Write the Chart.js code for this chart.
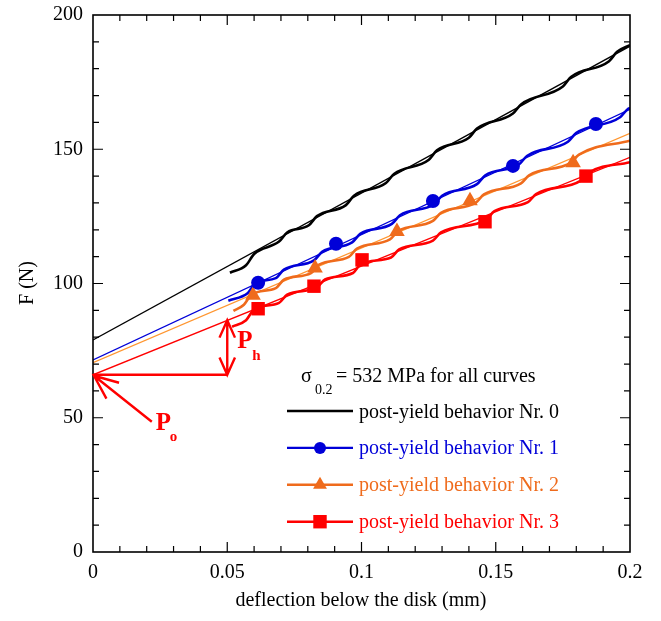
<!DOCTYPE html>
<html>
<head>
<meta charset="utf-8">
<script src="https://cdn.jsdelivr.net/npm/chart.js@4.4.0/dist/chart.umd.min.js"></script>
<style>
    body { margin: 0; background: #fff; }
    #wrap { width: 661px; height: 621px; }
</style>
</head>
<body>
<div id="wrap"><canvas id="myChart"></canvas></div>
<script>
// straight fitted lines (x in mm, F in N)
const lineX = [0, 0.2];
const line0F = [79, 188.4];
const line1F = [71.5, 164.9];
const line2F = [70.5, 155.9];
const line3F = [66, 147];

// post-yield curves
const curve0X = [0.051, 0.057, 0.060, 0.0693, 0.0723, 0.0804, 0.0834, 0.0942, 0.0972, 0.1091, 0.1121, 0.1251, 0.1281, 0.140, 0.143, 0.1564, 0.1594, 0.175, 0.178, 0.1922, 0.1952, 0.2];
const curve0F = [104.0, 106.8, 111.0, 115.6, 119.0, 121.7, 125.1, 129.2, 132.7, 137.4, 140.8, 146.1, 149.6, 154.3, 157.7, 163.3, 166.7, 173.4, 176.9, 182.8, 186.3, 188.8];

const curve1X = [0.0504, 0.0577, 0.0607, 0.0681, 0.0711, 0.0823, 0.0853, 0.0965, 0.0995, 0.1113, 0.1143, 0.127, 0.130, 0.143, 0.146, 0.1586, 0.1616, 0.1769, 0.1799, 0.1963, 0.1993, 0.2];
const curve1F = [93.6, 96.5, 100.3, 102.0, 105.2, 108.6, 111.8, 115.3, 118.5, 122.2, 125.4, 129.5, 132.7, 137.0, 140.2, 144.3, 147.5, 152.8, 156.0, 161.9, 165.1, 165.3];

const curve2X = [0.0523, 0.0562, 0.0592, 0.0681, 0.0711, 0.0812, 0.0842, 0.0953, 0.0983, 0.1106, 0.1136, 0.1266, 0.1296, 0.1426, 0.1456, 0.1594, 0.1624, 0.178, 0.181, 0.2];
const curve2F = [89.8, 92.1, 96.0, 98.3, 101.4, 103.9, 107.0, 109.9, 113.0, 116.4, 119.5, 123.3, 126.3, 130.1, 133.2, 137.3, 140.3, 145.0, 148.0, 153.2];

const curve3X = [0.0518, 0.057, 0.060, 0.0693, 0.0723, 0.0834, 0.0864, 0.0968, 0.0998, 0.111, 0.114, 0.1266, 0.1296, 0.1465, 0.1495, 0.162, 0.165, 0.1817, 0.1847, 0.2];
const curve3F = [83.9, 86.3, 90.4, 92.8, 95.8, 98.5, 101.5, 103.9, 107.3, 109.7, 112.7, 116.0, 119.0, 123.8, 127.0, 130.3, 133.3, 138.3, 141.3, 145.2];

// symbols on the curves
const mark1X = [0.0615, 0.0905, 0.1266, 0.1564, 0.1873];
const mark1F = [100.3, 114.8, 130.7, 143.8, 159.4];
const mark2X = [0.0596, 0.0827, 0.1132, 0.1404, 0.1788];
const mark2F = [95.6, 105.8, 119.4, 130.8, 145.0];
const mark3X = [0.0615, 0.0823, 0.1002, 0.146, 0.1836];
const mark3F = [90.6, 99.0, 108.8, 123.0, 140.0];

// annotation values
const P0 = 66;          // N, intercept of curve 3 line
const PhX = 0.05;       // mm
const PhTop = 86.3;     // N

const legendLabels = [
    "post-yield behavior Nr. 0",
    "post-yield behavior Nr. 1",
    "post-yield behavior Nr. 2",
    "post-yield behavior Nr. 3"
];

const BLACK = "#000000";
const BLUE = "#0000d8";
const ORANGE = "#ef6b1c";
const ORANGE_THIN = "#ff9630";
const RED = "#ff0000";
const SERIF = "'Liberation Serif', 'Times New Roman', serif";

function pts(xs, ys) {
    return xs.map((x, i) => ({ x: x, y: ys[i] }));
}

function straight(ys, color) {
    return {
        data: pts(lineX, ys), borderColor: color, borderWidth: 1.3,
        pointRadius: 0, order: 2
    };
}

function curve(xs, ys, color) {
    return {
        data: pts(xs, ys), borderColor: color, borderWidth: 2.6,
        pointRadius: 0, cubicInterpolationMode: "monotone", order: 1
    };
}

function marks(xs, ys, color, style, r) {
    return {
        data: pts(xs, ys), showLine: false, pointStyle: style, pointRadius: r,
        backgroundColor: color, borderColor: color, borderWidth: 0, order: 0
    };
}

// frame with inward ticks on all four sides
const frameTicks = {
    id: "frameTicks",
    afterDatasetsDraw(chart) {
        const { ctx, chartArea: a, scales: { x, y } } = chart;
        ctx.save();
        ctx.strokeStyle = "#000";
        ctx.lineWidth = 1.2;
        ctx.beginPath();
        for (let i = 1; i < 20; i++) {
            const px = x.getPixelForValue(i * 0.01);
            const len = i % 5 === 0 ? 10 : 6;
            ctx.moveTo(px, a.bottom); ctx.lineTo(px, a.bottom - len);
            ctx.moveTo(px, a.top); ctx.lineTo(px, a.top + len);
        }
        for (let i = 1; i < 20; i++) {
            const py = y.getPixelForValue(i * 10);
            const len = i % 5 === 0 ? 10 : 6;
            ctx.moveTo(a.left, py); ctx.lineTo(a.left + len, py);
            ctx.moveTo(a.right, py); ctx.lineTo(a.right - len, py);
        }
        ctx.stroke();
        ctx.lineWidth = 1.6;
        ctx.strokeRect(a.left, a.top, a.right - a.left, a.bottom - a.top);
        ctx.restore();
    }
};

function arrowHead(ctx, tx, ty, fx, fy, len, ang) {
    const t = Math.atan2(fy - ty, fx - tx);
    ctx.moveTo(tx + len * Math.cos(t + ang), ty + len * Math.sin(t + ang));
    ctx.lineTo(tx, ty);
    ctx.lineTo(tx + len * Math.cos(t - ang), ty + len * Math.sin(t - ang));
}

// P_o and P_h marks
const annotations = {
    id: "annotations",
    afterDatasetsDraw(chart) {
        const { ctx, scales: { x, y } } = chart;
        const x0 = x.getPixelForValue(0);
        const xh = x.getPixelForValue(PhX);
        const y0 = y.getPixelForValue(P0);
        const yh = y.getPixelForValue(PhTop);
        const tailX = x.getPixelForValue(0.0219);
        const tailY = y.getPixelForValue(48.5);
        ctx.save();
        ctx.strokeStyle = RED;
        ctx.fillStyle = RED;
        ctx.lineWidth = 2.4;
        ctx.lineCap = "butt";
        ctx.lineJoin = "miter";
        ctx.beginPath();
        ctx.moveTo(x0, y0); ctx.lineTo(xh, y0);
        ctx.moveTo(xh, yh); ctx.lineTo(xh, y0);
        arrowHead(ctx, xh, yh, xh, y0, 19, 0.42);
        arrowHead(ctx, xh, y0, xh, yh, 19, 0.42);
        ctx.moveTo(tailX, tailY); ctx.lineTo(x0 + 1, y0 + 1);
        arrowHead(ctx, x0 + 1, y0 + 1, tailX, tailY, 26, 0.4);
        ctx.stroke();

        // label positions follow the arrows
        ctx.textBaseline = "alphabetic";
        ctx.textAlign = "left";
        ctx.font = "bold 25px " + SERIF;
        ctx.fillText("P", tailX + 4, tailY + 8);
        ctx.fillText("P", xh + 10, yh + 28);
        ctx.font = "bold 15px " + SERIF;
        ctx.fillText("o", tailX + 18, tailY + 19);
        ctx.fillText("h", xh + 25, yh + 40);
        ctx.restore();
    }
};

// legend block and axis titles
const legendAndTitles = {
    id: "legendAndTitles",
    afterDraw(chart) {
        const { ctx } = chart;
        ctx.save();
        ctx.textBaseline = "alphabetic";
        ctx.textAlign = "left";
        ctx.fillStyle = "#000";
        ctx.font = "20px " + SERIF;
        ctx.fillText("\u03c3", 301, 382);
        ctx.fillText("= 532 MPa for all curves", 336, 382);
        ctx.font = "14px " + SERIF;
        ctx.fillText("0.2", 315, 394);

        const rows = [
            { c: BLACK, style: null, r: 0 },
            { c: BLUE, style: "circle", r: 6 },
            { c: ORANGE, style: "triangle", r: 8 },
            { c: RED, style: "rect", r: 9.5 }
        ];
        rows.forEach((row, i) => {
            const ly = 411 + i * 36.9;
            ctx.strokeStyle = row.c;
            ctx.lineWidth = 2.4;
            ctx.beginPath();
            ctx.moveTo(287, ly); ctx.lineTo(353, ly);
            ctx.stroke();
            if (row.style) {
                ctx.fillStyle = row.c;
                Chart.helpers.drawPoint(ctx, { pointStyle: row.style, radius: row.r, rotation: 0, borderWidth: 0 }, 320, ly);
            }
            ctx.fillStyle = row.c;
            ctx.font = "20px " + SERIF;
            ctx.fillText(legendLabels[i], 359, ly + 6.5);
        });

        ctx.fillStyle = "#000";
        ctx.textAlign = "center";
        ctx.font = "20px " + SERIF;
        ctx.fillText("deflection below the disk (mm)", 361, 606);
        ctx.translate(33, 283);
        ctx.rotate(-Math.PI / 2);
        ctx.fillText("F (N)", 0, 0);
        ctx.restore();
    }
};

new Chart(document.getElementById("myChart"), {
    type: "line",
    data: {
        datasets: [
            marks(mark1X, mark1F, BLUE, "circle", 7),
            marks(mark2X, mark2F, ORANGE, "triangle", 9),
            marks(mark3X, mark3F, RED, "rect", 9.5),
            curve(curve0X, curve0F, BLACK),
            curve(curve1X, curve1F, BLUE),
            curve(curve2X, curve2F, ORANGE),
            curve(curve3X, curve3F, RED),
            straight(line0F, BLACK),
            straight(line1F, BLUE),
            straight(line2F, ORANGE_THIN),
            straight(line3F, RED)
        ]
    },
    options: {
        responsive: true,
        maintainAspectRatio: false,
        animation: false,
        layout: { padding: { left: 0, right: 31, top: 15, bottom: 0 } },
        plugins: {
            legend: { display: false },
            tooltip: { enabled: false }
        },
        scales: {
            x: {
                type: "linear",
                min: 0,
                max: 0.2,
                grid: { display: false, drawTicks: false },
                border: { display: false },
                ticks: {
                    stepSize: 0.05,
                    padding: 9,
                    color: "#000",
                    font: { family: SERIF, size: 20 },
                    callback: v => String(+v.toFixed(2))
                },
                afterFit: s => { s.height = 69; s.paddingLeft = 0; s.paddingRight = 0; }
            },
            y: {
                type: "linear",
                min: 0,
                max: 200,
                grid: { display: false, drawTicks: false },
                border: { display: false },
                ticks: {
                    stepSize: 50,
                    padding: 10,
                    color: "#000",
                    font: { family: SERIF, size: 20 }
                },
                afterFit: s => { s.width = 93; s.paddingTop = 0; s.paddingBottom = 0; }
            }
        }
    },
    plugins: [frameTicks, annotations, legendAndTitles]
});
</script>
</body>
</html>
